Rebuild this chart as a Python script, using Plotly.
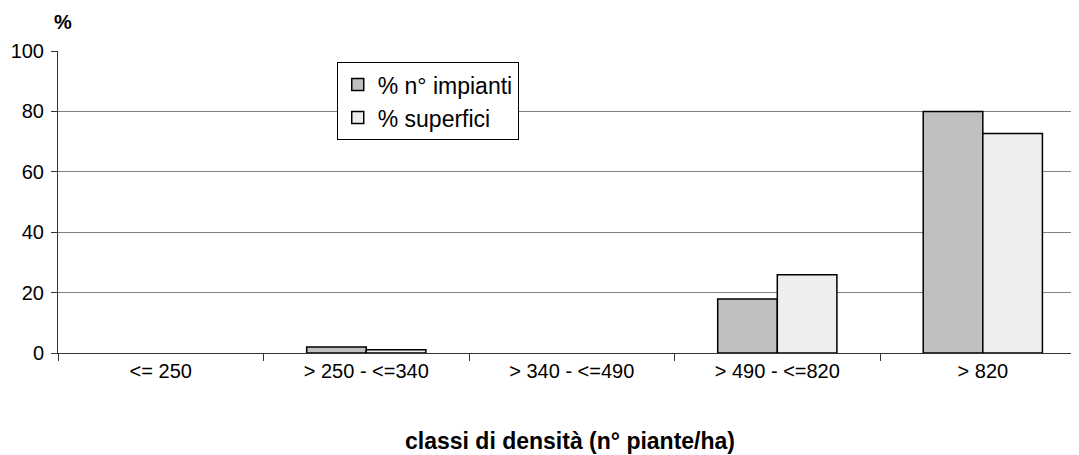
import plotly.graph_objects as go

categories = ["<= 250", "> 250 - <=340", "> 340 - <=490", "> 490 - <=820", "> 820"]
impianti = [0, 2.0, 0, 17.9, 80.0]
superfici = [0, 1.1, 0, 25.9, 72.7]
series_names = ["% n° impianti", "% superfici"]
y_ticks = [0, 20, 40, 60, 80, 100]

FONT = "Arial, Liberation Sans, sans-serif"


def visible(values):
    # zero-height bars are not drawn in the original
    return [v if v != 0 else None for v in values]


fig = go.Figure()
fig.add_trace(go.Bar(x=categories, y=visible(impianti), name=series_names[0],
                     marker=dict(color="#c0c0c0", line=dict(color="black", width=1.5))))
fig.add_trace(go.Bar(x=categories, y=visible(superfici), name=series_names[1],
                     marker=dict(color="#eeeeee", line=dict(color="black", width=1.5))))

fig.update_layout(
    width=1071, height=447,
    margin=dict(l=50, r=0, t=43, b=102),
    paper_bgcolor="white", plot_bgcolor="white",
    font=dict(family=FONT, size=20, color="black"),
    barmode="group", bargap=0.42, bargroupgap=0,
    showlegend=True,
    legend=dict(x=0.273, y=0.963, xanchor="left", yanchor="top",
                bordercolor="black", borderwidth=1, bgcolor="white",
                font=dict(size=23, family=FONT), itemwidth=30),
    xaxis=dict(type="category", range=[-0.5, 4.468], tickson="boundaries",
               ticks="outside", ticklen=7, tickcolor="#333",
               showline=True, linecolor="#333", linewidth=1,
               showgrid=False, tickfont=dict(size=20)),
    yaxis=dict(range=[0, 100], tickvals=y_ticks, ticks="outside", ticklen=6,
               tickcolor="#333", showline=True, linecolor="#333", linewidth=1,
               showgrid=True, gridcolor="#808080", gridwidth=1,
               zeroline=False, tickfont=dict(size=20), ticklabelstandoff=3),
    annotations=[
        dict(text="<b>%</b>", xref="paper", yref="paper", x=(63 - 58) / 1021, y=(353 - 22) / 302,
             xanchor="center", yanchor="middle", showarrow=False, font=dict(size=20)),
        dict(text="<b>classi di densità (n° piante/ha)</b>", xref="paper", yref="paper",
             x=(570 - 58) / 1021, y=(353 - 441) / 302, xanchor="center", yanchor="middle",
             showarrow=False, font=dict(size=23)),
    ],
)

fig.write_html("out.html")
